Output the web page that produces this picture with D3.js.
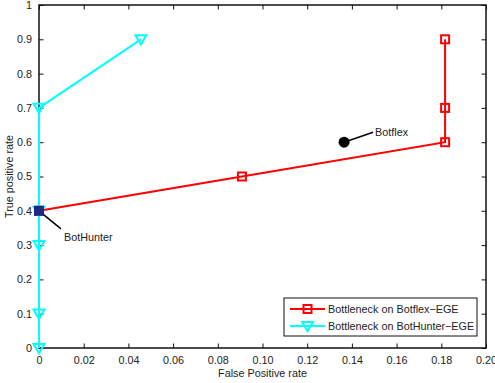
<!DOCTYPE html>
<html>
<head>
<meta charset="utf-8">
<script src="https://cdn.jsdelivr.net/npm/d3@7"></script>
<style>
  html, body { margin: 0; padding: 0; background: #fff; }
  svg { display: block; font-family: "Liberation Sans", Arial, sans-serif; }
</style>
</head>
<body>
<svg id="chart" width="495" height="383"></svg>
<script>
// ROC operating points
const botflexEgeFpr = [0, 0.0908, 0.1817, 0.1817, 0.1817];
const botflexEgeTpr = [0.4, 0.5, 0.6, 0.7, 0.9];
const botHunterEgeFpr = [0, 0, 0, 0, 0, 0.0456];
const botHunterEgeTpr = [0, 0.1, 0.3, 0.4, 0.7, 0.9];
const baselineNames = ["Botflex", "BotHunter"];
const baselineFpr = [0.1365, 0];
const baselineTpr = [0.6, 0.4];
const seriesNames = ["Bottleneck on Botflex\u2212EGE", "Bottleneck on BotHunter\u2212EGE"];
const xTicks = [0, 0.02, 0.04, 0.06, 0.08, 0.10, 0.12, 0.14, 0.16, 0.18, 0.20];
const xTickLabels = ["0", "0.02", "0.04", "0.06", "0.08", "0.10", "0.12", "0.14", "0.16", "0.18", "0.20"];
const yTicks = [0, 0.1, 0.2, 0.3, 0.4, 0.5, 0.6, 0.7, 0.8, 0.9, 1];
const yTickLabels = ["0", "0.1", "0.2", "0.3", "0.4", "0.5", "0.6", "0.7", "0.8", "0.9", "1"];

const svg = d3.select("#chart");
const L = 39, R = 486, T = 5, B = 348;
const x = d3.scaleLinear().domain([0, 0.2]).range([L, R]);
const y = d3.scaleLinear().domain([0, 1]).range([B, T]);

const textColor = "#222";
const fs = 10.8;
const tickLen = 4.5;

// Axes with inward ticks; mirrored on top and right
const xAxis = d3.axisBottom(x).tickValues(xTicks).tickFormat((d, i) => xTickLabels[i]).tickSizeInner(-tickLen).tickSizeOuter(0).tickPadding(8);
const yAxis = d3.axisLeft(y).tickValues(yTicks).tickFormat((d, i) => yTickLabels[i]).tickSizeInner(-tickLen).tickSizeOuter(0).tickPadding(7);
const xTop = d3.axisTop(x).tickValues(xTicks).tickFormat("").tickSizeInner(-tickLen).tickSizeOuter(0);
const yRight = d3.axisRight(y).tickValues(yTicks).tickFormat("").tickSizeInner(-tickLen).tickSizeOuter(0);

function styleAxis(g) {
  g.select(".domain").remove();
  g.selectAll(".tick line").attr("stroke", "#111").attr("stroke-width", 1);
  g.selectAll(".tick text").attr("fill", textColor).attr("font-size", fs)
    .attr("font-family", "Liberation Sans, Arial, sans-serif");
}
svg.append("g").attr("transform", `translate(0,${B})`).call(xAxis).call(styleAxis);
svg.append("g").attr("transform", `translate(${L},0)`).call(yAxis).call(styleAxis);
svg.append("g").attr("transform", `translate(0,${T})`).call(xTop).call(styleAxis);
svg.append("g").attr("transform", `translate(${R},0)`).call(yRight).call(styleAxis);

// Plot frame
svg.append("rect").attr("x", L).attr("y", T).attr("width", R - L).attr("height", B - T)
  .attr("fill", "none").attr("stroke", "#111").attr("stroke-width", 1.5);

// Axis titles
svg.append("text").attr("x", (L + R) / 2).attr("y", 377).attr("text-anchor", "middle")
  .attr("font-size", fs).attr("fill", textColor).text("False Positive rate");
svg.append("text").attr("transform", `translate(13,${(T + B) / 2}) rotate(-90)`).attr("text-anchor", "middle")
  .attr("font-size", fs).attr("fill", textColor).text("True positive rate");

const line = d3.line().x(d => x(d[0])).y(d => y(d[1]));
const redPts = botflexEgeFpr.map((v, i) => [v, botflexEgeTpr[i]]);
const cyanPts = botHunterEgeFpr.map((v, i) => [v, botHunterEgeTpr[i]]);

const red = "#ff0000", cyan = "#00ffff";

function squareMarker(g, cx, cy, color) {
  g.append("rect").attr("x", cx - 4).attr("y", cy - 4).attr("width", 8).attr("height", 8)
    .attr("fill", "none").attr("stroke", color).attr("stroke-width", 2);
}
function triMarker(g, cx, cy, color) {
  const s = 5.5;
  g.append("path").attr("d", `M${cx - s},${cy - s * 0.75} L${cx + s},${cy - s * 0.75} L${cx},${cy + s * 0.95} Z`)
    .attr("fill", "none").attr("stroke", color).attr("stroke-width", 2).attr("stroke-linejoin", "miter");
}

// Botflex-EGE series
svg.append("path").datum(redPts).attr("d", line).attr("fill", "none").attr("stroke", red).attr("stroke-width", 2);
const redG = svg.append("g");
redPts.forEach(p => squareMarker(redG, x(p[0]), y(p[1]), red));

// BotHunter-EGE series
svg.append("path").datum(cyanPts).attr("d", line).attr("fill", "none").attr("stroke", cyan).attr("stroke-width", 2);
const cyanG = svg.append("g");
cyanPts.forEach(p => triMarker(cyanG, x(p[0]), y(p[1]), cyan));

// Baseline detectors with callouts
const bfx = x(baselineFpr[0]), bfy = y(baselineTpr[0]);
svg.append("line").attr("x1", bfx).attr("y1", bfy).attr("x2", bfx + 29).attr("y2", bfy - 10)
  .attr("stroke", "#000").attr("stroke-width", 1.5);
svg.append("circle").attr("cx", bfx).attr("cy", bfy).attr("r", 5.5).attr("fill", "#000");
svg.append("text").attr("x", bfx + 31).attr("y", bfy - 6).attr("font-size", fs).attr("fill", textColor).text(baselineNames[0]);

const bhx = x(baselineFpr[1]), bhy = y(baselineTpr[1]);
svg.append("line").attr("x1", bhx).attr("y1", bhy).attr("x2", bhx + 22).attr("y2", bhy + 18)
  .attr("stroke", "#000").attr("stroke-width", 1.5);
svg.append("rect").attr("x", bhx - 5).attr("y", bhy - 5).attr("width", 10).attr("height", 10).attr("fill", "#1c2a85");
svg.append("text").attr("x", bhx + 25).attr("y", bhy + 30).attr("font-size", fs).attr("fill", textColor).text(baselineNames[1]);

// Legend
const lg = svg.append("g");
lg.append("rect").attr("x", 284).attr("y", 298).attr("width", 193).attr("height", 38)
  .attr("fill", "#fff").attr("stroke", "#111").attr("stroke-width", 1);
const rows = [{ c: red, m: squareMarker, y: 309 }, { c: cyan, m: triMarker, y: 326 }];
rows.forEach((r, i) => {
  lg.append("line").attr("x1", 290).attr("x2", 325).attr("y1", r.y).attr("y2", r.y).attr("stroke", r.c).attr("stroke-width", 2);
  r.m(lg, 307.5, r.y, r.c);
  lg.append("text").attr("x", 328).attr("y", r.y + 3.8).attr("font-size", fs).attr("fill", textColor).text(seriesNames[i]);
});
</script>
</body>
</html>
